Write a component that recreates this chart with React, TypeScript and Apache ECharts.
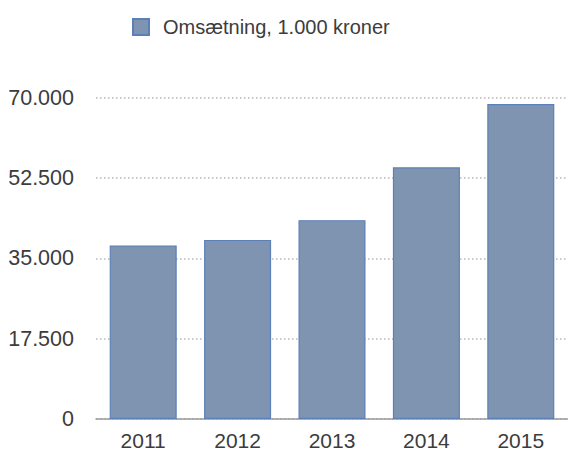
import React, { useEffect, useRef } from "react";
import * as echarts from "echarts";

const categories = ["2011", "2012", "2013", "2014", "2015"];
const revenue = [37800, 39000, 43300, 54800, 68600];
const seriesName = "Omsætning, 1.000 kroner";
const yTicks = [0, 17500, 35000, 52500, 70000];

const FONT = "'Liberation Sans', Arial, Helvetica, sans-serif";

function fmt(v: number): string {
  return String(Math.round(v)).replace(/\B(?=(\d{3})+(?!\d))/g, ".");
}

export default function App() {
  const ref = useRef<HTMLDivElement>(null);
  useEffect(() => {
    document.body.style.margin = "0";
    if (!ref.current) return;
    const chart = echarts.init(ref.current, undefined, { renderer: "svg" });
    chart.setOption({
      animation: false,
      backgroundColor: "#ffffff",
      textStyle: { fontFamily: FONT },
      legend: {
        data: [seriesName],
        left: 132,
        top: 17,
        padding: 0,
        itemWidth: 16,
        itemHeight: 16,
        icon: "rect",
        textStyle: {
          fontFamily: FONT,
          fontSize: 20,
          color: "#3c3c3c",
          padding: [0, 0, 0, 9],
        },
      },
      grid: { left: 96, right: 0, top: 97.5, bottom: 31, containLabel: false },
      xAxis: {
        type: "category",
        data: categories,
        axisTick: { show: false },
        axisLine: { show: true, lineStyle: { color: "#9a9a9a", width: 1.5 } },
        axisLabel: {
          fontFamily: FONT,
          fontSize: 21,
          color: "#3c3c3c",
          margin: 11,
        },
      },
      yAxis: {
        type: "value",
        min: yTicks[0],
        max: yTicks[yTicks.length - 1],
        interval: yTicks[1] - yTicks[0],
        axisLine: { show: false },
        axisTick: { show: false },
        splitLine: {
          show: true,
          lineStyle: { type: [1.5, 2.5], color: "#b8b8b8", width: 1.5 },
        },
        axisLabel: {
          fontFamily: FONT,
          fontSize: 21.5,
          color: "#3c3c3c",
          margin: 22,
          formatter: (v: number) => fmt(v),
        },
      },
      series: [
        {
          name: seriesName,
          type: "bar",
          data: revenue,
          barCategoryGap: "29%",
          itemStyle: {
            color: "#7f94b1",
            borderColor: "#5b7fb8",
            borderWidth: 1.2,
          },
        },
      ],
    });
    return () => chart.dispose();
  }, []);
  return <div ref={ref} style={{ width: 568, height: 451 }} />;
}
